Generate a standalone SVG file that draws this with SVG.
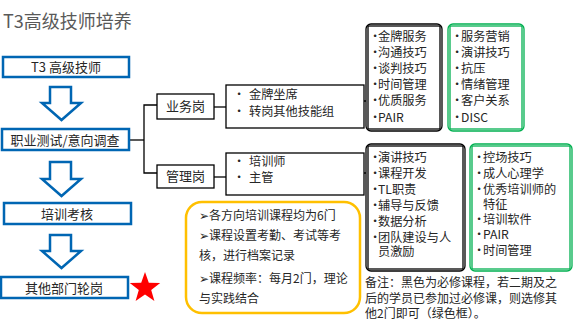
<svg xmlns="http://www.w3.org/2000/svg" width="578" height="330" viewBox="0 0 578 330">
<style>
text{font-family:"Noto Sans CJK SC","DejaVu Sans",sans-serif;fill:#262626;}
.t{font-size:18px;fill:#595959;}
.m{font-size:13px;text-anchor:middle;}
.l{font-size:12.2px;}
.s{font-size:12px;}
.blue{fill:#fff;stroke:#0066B3;stroke-width:2.5;}
.blk{fill:#fff;stroke:#000;stroke-width:1.3;}
.k{fill:none;stroke:#000;stroke-width:1.3;}
.g{fill:none;stroke:#00B050;stroke-width:1.3;}
.y{fill:#fff;stroke:#FFC000;stroke-width:2.5;}
.c{fill:none;stroke:#000;stroke-width:1.3;}
</style>
<rect width="578" height="330" fill="#fff"/>
<text class="t" x="3" y="28">T3高级技师培养</text>

<g id="connectors">
<polyline class="c" points="129,140 144,140"/>
<polyline class="c" points="157,105 144,105 144,173 157,173"/>
<line class="c" x1="214" y1="107" x2="226" y2="107"/>
<line class="c" x1="214" y1="177" x2="226" y2="177"/>
<line class="c" x1="364" y1="101" x2="366" y2="101"/>
<line class="c" x1="364" y1="173" x2="366" y2="173"/>
</g>

<g id="arrows">
<path class="blue" d="M50,87 H71 V103 H81 L61.5,120 L42,103 H50 Z"/>
<path class="blue" d="M50,162 H71 V179 H81 L61.5,196 L42,179 H50 Z"/>
<path class="blue" d="M50,235 H71 V251 H81 L61.5,268 L42,251 H50 Z"/>
</g>

<g id="n-t3">
<rect class="blue" x="3" y="57" width="126" height="20"/>
<text class="m" x="66" y="72">T3 高级技师</text>
</g>
<g id="n-test">
<rect class="blue" x="2" y="129" width="127" height="21"/>
<text class="m" x="65" y="145">职业测试/意向调查</text>
</g>
<g id="n-exam">
<rect class="blue" x="4" y="203" width="127" height="21"/>
<text class="m" x="67" y="219">培训考核</text>
</g>
<g id="n-rotate">
<rect class="blue" x="1" y="277" width="127" height="21"/>
<text class="m" x="64" y="293">其他部门轮岗</text>
</g>
<g id="star">
<polygon fill="#FF0000" points="145,272 148.8,282.7 160.2,283.1 151.2,290 154.4,300.9 145,294.5 135.6,300.9 138.8,290 129.8,283.1 141.2,282.7"/>
</g>

<g id="n-biz">
<rect class="blk" x="157" y="94" width="57" height="25"/>
<text class="m" x="185.5" y="111">业务岗</text>
</g>
<g id="n-mgr">
<rect class="blk" x="157" y="165" width="57" height="23"/>
<text class="m" x="185.5" y="181">管理岗</text>
</g>
<g id="n-biz-list">
<rect class="blk" x="226" y="85" width="138" height="43"/>
<text class="l"><tspan x="233" y="99">•</tspan><tspan x="249" y="99">金牌坐席</tspan><tspan x="233" y="116">•</tspan><tspan x="249" y="116">转岗其他技能组</tspan></text>
</g>
<g id="n-mgr-list">
<rect class="blk" x="226" y="153" width="138" height="42"/>
<text class="l"><tspan x="233" y="166">•</tspan><tspan x="249" y="166">培训师</tspan><tspan x="233" y="182">•</tspan><tspan x="249" y="182">主管</tspan></text>
</g>

<g id="n-biz-req">
<rect class="k" x="366" y="24" width="76" height="107" rx="5"/>
<rect class="k" x="368" y="26" width="72" height="103"/>
<text class="l"><tspan x="369" y="41">•</tspan><tspan x="378" y="41">金牌服务</tspan><tspan x="369" y="57">•</tspan><tspan x="378" y="57">沟通技巧</tspan><tspan x="369" y="73">•</tspan><tspan x="378" y="73">谈判技巧</tspan><tspan x="369" y="89">•</tspan><tspan x="378" y="89">时间管理</tspan><tspan x="369" y="105">•</tspan><tspan x="378" y="105">优质服务</tspan><tspan x="369" y="122">•</tspan><tspan x="378" y="122">PAIR</tspan></text>
</g>
<g id="n-biz-opt">
<rect class="g" x="448" y="24" width="76" height="107" rx="5"/>
<rect class="g" x="450" y="26" width="72" height="103"/>
<text class="l"><tspan x="451" y="41">•</tspan><tspan x="461" y="41">服务营销</tspan><tspan x="451" y="57">•</tspan><tspan x="461" y="57">演讲技巧</tspan><tspan x="451" y="73">•</tspan><tspan x="461" y="73">抗压</tspan><tspan x="451" y="89">•</tspan><tspan x="461" y="89">情绪管理</tspan><tspan x="451" y="105">•</tspan><tspan x="461" y="105">客户关系</tspan><tspan x="451" y="122">•</tspan><tspan x="461" y="122">DISC</tspan></text>
</g>
<g id="n-mgr-req">
<rect class="k" x="366" y="144" width="99" height="127" rx="5"/>
<rect class="k" x="368" y="146" width="95" height="123"/>
<text class="l"><tspan x="369" y="162">•</tspan><tspan x="378" y="162">演讲技巧</tspan><tspan x="369" y="178">•</tspan><tspan x="378" y="178">课程开发</tspan><tspan x="369" y="194">•</tspan><tspan x="378" y="194">TL职责</tspan><tspan x="369" y="210">•</tspan><tspan x="378" y="210">辅导与反馈</tspan><tspan x="369" y="226">•</tspan><tspan x="378" y="226">数据分析</tspan><tspan x="369" y="242">•</tspan><tspan x="378" y="242">团队建设与人</tspan><tspan x="378" y="256">员激励</tspan></text>
</g>
<g id="n-mgr-opt">
<rect class="g" x="470" y="144" width="102" height="127" rx="5"/>
<rect class="g" x="472" y="146" width="98" height="123"/>
<text class="l"><tspan x="473" y="162">•</tspan><tspan x="483" y="162">控场技巧</tspan><tspan x="473" y="178">•</tspan><tspan x="483" y="178">成人心理学</tspan><tspan x="473" y="194">•</tspan><tspan x="483" y="194">优秀培训师的</tspan><tspan x="483" y="209">特征</tspan><tspan x="473" y="224">•</tspan><tspan x="483" y="224">培训软件</tspan><tspan x="473" y="239">•</tspan><tspan x="483" y="239">PAIR</tspan><tspan x="473" y="255">•</tspan><tspan x="483" y="255">时间管理</tspan></text>
</g>

<g id="n-notes">
<rect class="y" x="186" y="202" width="174" height="111" rx="16"/>
<text class="s"><tspan x="199" y="220">➢各方向培训课程均为6门</tspan><tspan x="199" y="240">➢课程设置考勤、考试等考</tspan><tspan x="199" y="260">核，进行档案记录</tspan><tspan x="199" y="283">➢课程频率：每月2门，理论</tspan><tspan x="199" y="303">与实践结合</tspan></text>
</g>
<g id="remark">
<text class="s"><tspan x="365" y="287">备注：黑色为必修课程，若二期及之</tspan><tspan x="365" y="303">后的学员已参加过必修课，则选修其</tspan><tspan x="365" y="318">他2门即可（绿色框）。</tspan></text>
</g>
</svg>
